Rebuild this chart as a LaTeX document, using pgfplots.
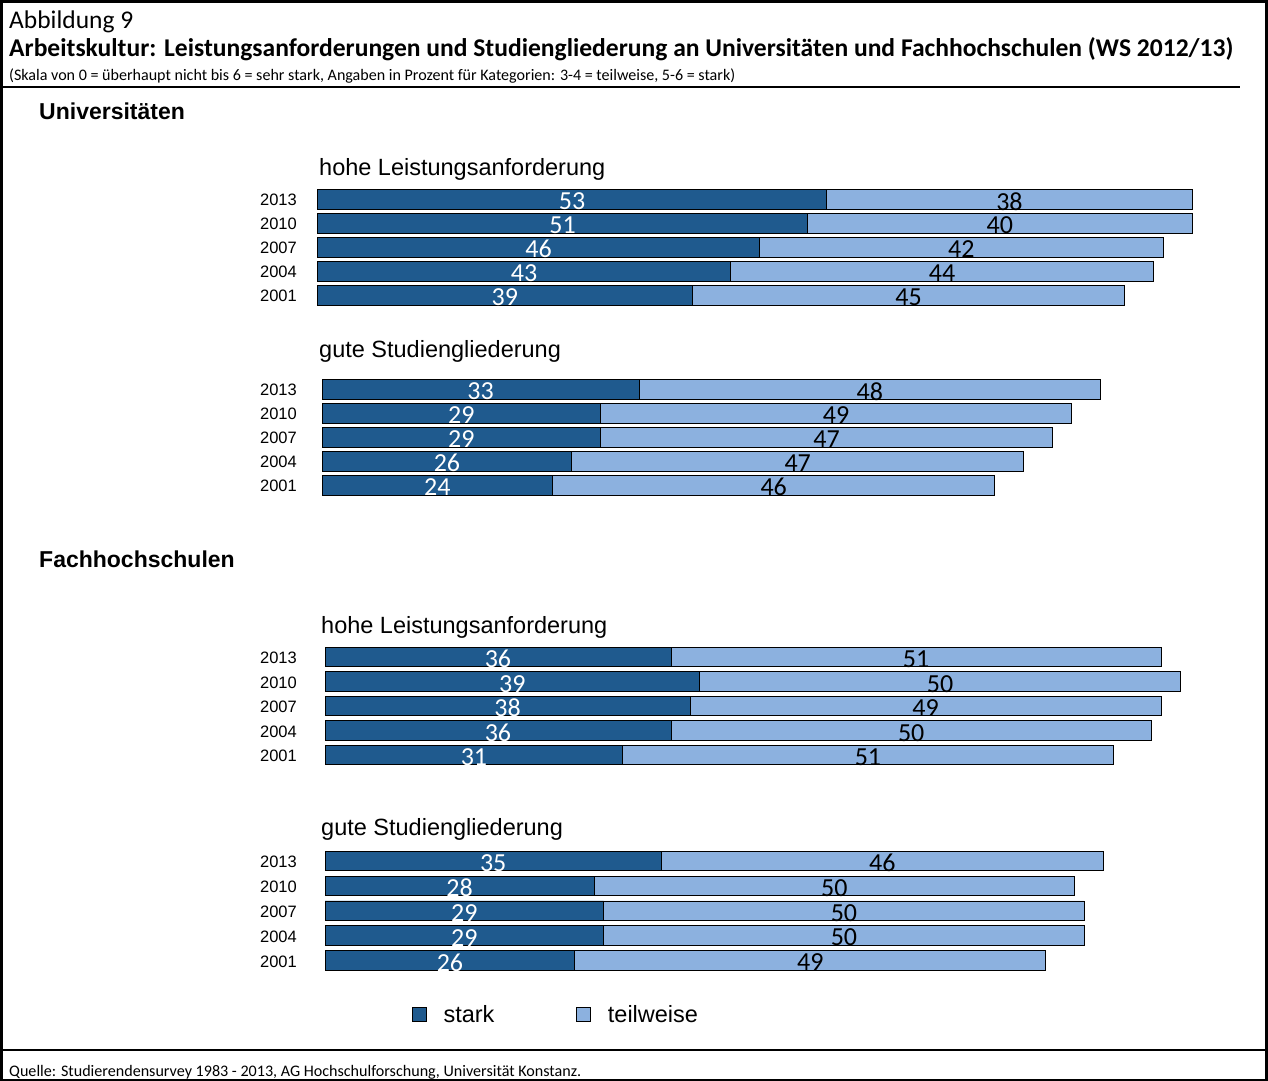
\documentclass[border=0pt]{standalone}
\usepackage{pgfplots}
\pgfplotsset{compat=1.18}
\usepackage{pgfplotstable}
\usepackage{graphicx}
\usepackage{fontspec}
\setmainfont{Carlito}
\newfontfamily\arial{Liberation Sans}
\definecolor{dark}{HTML}{1F5A8E}
\definecolor{light}{HTML}{8CB1DF}

% y: 0=2013, 1=2010, 2=2007, 3=2004, 4=2001 ; s = stark, t = teilweise
\pgfplotstableread{
y s t
0 53 38
1 51 40
2 46 42
3 43 44
4 39 45
}\uniA
\pgfplotstableread{
y s t
0 33 48
1 29 49
2 29 47
3 26 47
4 24 46
}\uniB
\pgfplotstableread{
y s t
0 36 51
1 39 50
2 38 49
3 36 50
4 31 51
}\fhA
\pgfplotstableread{
y s t
0 35 46
1 28 50
2 29 50
3 29 50
4 26 49
}\fhB

\pgfplotsset{
  grp/.style={
    scale only axis, width=961pt, xmin=0, xmax=100,
    ymin=-0.5, ymax=4.5, y dir=reverse,
    axis line style={draw=none}, tick style={draw=none},
    xtick=\empty, ytick={0,1,2,3,4},
    yticklabels={2013,2010,2007,2004,2001},
    major tick length=0pt,
    yticklabel style={font=\arial\fontsize{16.5}{18}\selectfont, inner sep=0pt, anchor=east, yshift=-1pt},
    clip=false, anchor=north west,
  },
  lbar/.style={xbar, bar width=19.5pt, bar shift=0pt, fill=light, draw=black, line width=0.9pt, forget plot},
  dbar/.style={xbar, bar width=19.5pt, bar shift=0pt, fill=dark, draw=black, line width=0.9pt, forget plot},
  lab/.style={only marks, mark=none, forget plot, nodes near coords, point meta=explicit symbolic,
    every node near coord/.style={anchor=center, yshift=-2pt, font=\fontsize{26}{26}\selectfont, text=#1}},
}

\newcommand{\group}[1]{%
  \addplot[lbar] table[x expr=\thisrow{s}+\thisrow{t}, y=y] {#1};
  \addplot[dbar] table[x=s, y=y] {#1};
  \addplot[lab=white] table[x expr=\thisrow{s}/2, y=y, meta=s] {#1};
  \addplot[lab=black] table[x expr=\thisrow{s}+\thisrow{t}/2, y=y, meta=t] {#1};
}

\begin{document}
\begin{tikzpicture}
\useasboundingbox (0pt,0pt) rectangle (1268pt,-1080pt);
% frame
\draw[line width=3pt] (1.5pt,-1.5pt) rectangle (1266.5pt,-1080pt);
\draw[line width=2pt] (0pt,-87pt) -- (1240pt,-87pt);
\draw[line width=2pt] (0pt,-1050pt) -- (1268pt,-1050pt);

% titles
\node[anchor=base west, inner sep=0pt] at (9pt,-28pt) {\fontsize{25.5}{26}\selectfont Abbildung 9};
\node[anchor=base west, inner sep=0pt] at (9pt,-56pt) {\resizebox{1224pt}{!}{\fontsize{24}{26}\selectfont\bfseries Arbeitskultur: Leistungsanforderungen und Studiengliederung an Universitäten und Fachhochschulen (WS 2012/13)}};
\node[anchor=base west, inner sep=0pt] at (9pt,-80pt) {\resizebox{726pt}{!}{\fontsize{14}{16}\selectfont (Skala von 0 = überhaupt nicht bis 6 = sehr stark, Angaben in Prozent für Kategorien: 3-4 = teilweise, 5-6 = stark)}};
\node[anchor=base west, inner sep=0pt] at (9pt,-1076pt) {\resizebox{572pt}{!}{\fontsize{15}{17}\selectfont Quelle: Studierendensurvey 1983 - 2013, AG Hochschulforschung, Universität Konstanz.}};

% section headings
\node[anchor=base west, inner sep=0pt] at (39pt,-119pt) {\arial\bfseries\fontsize{23}{25}\selectfont Universitäten};
\node[anchor=base west, inner sep=0pt] at (39pt,-567pt) {\arial\bfseries\fontsize{23}{25}\selectfont Fachhochschulen};
\node[anchor=base west, inner sep=0pt] at (319pt,-175pt) {\arial\fontsize{23.5}{25}\selectfont hohe Leistungsanforderung};
\node[anchor=base west, inner sep=0pt] at (319pt,-357pt) {\arial\fontsize{23.5}{25}\selectfont gute Studiengliederung};
\node[anchor=base west, inner sep=0pt] at (321pt,-633pt) {\arial\fontsize{23.5}{25}\selectfont hohe Leistungsanforderung};
\node[anchor=base west, inner sep=0pt] at (321pt,-835pt) {\arial\fontsize{23.5}{25}\selectfont gute Studiengliederung};

\begin{axis}[grp, at={(317.5pt,-187.3pt)}, height=120pt, yticklabel style={xshift=-20.5pt}]
\group{\uniA}
\end{axis}

\begin{axis}[grp, at={(322pt,-377.3pt)}, height=120pt, yticklabel style={xshift=-25pt}]
\group{\uniB}
\end{axis}

\begin{axis}[grp, at={(325pt,-644.9pt)}, height=122.5pt, yticklabel style={xshift=-28pt}]
\group{\fhA}
\end{axis}

\begin{axis}[grp, at={(325pt,-848.6pt)}, height=124.25pt, yticklabel style={xshift=-28pt},
  legend columns=2,
  legend style={at={(axis description cs:0.0906,-0.3376)}, anchor=west, draw=none, fill=none,
    inner sep=0pt, outer sep=0pt, nodes={inner sep=0pt},
    font=\arial\fontsize{23.5}{25}\selectfont,
    /tikz/every even column/.append style={column sep=82pt}},
  legend image code/.code={\draw[#1] (0pt,-7pt) rectangle (14pt,7pt); \path[draw=none] (31pt,0pt) circle (0.01pt);},
]
\group{\fhB}
\addlegendimage{fill=dark, draw=black, line width=0.9pt}
\addlegendentry{stark}
\addlegendimage{fill=light, draw=black, line width=0.9pt}
\addlegendentry{teilweise}
\end{axis}
\end{tikzpicture}
\end{document}
